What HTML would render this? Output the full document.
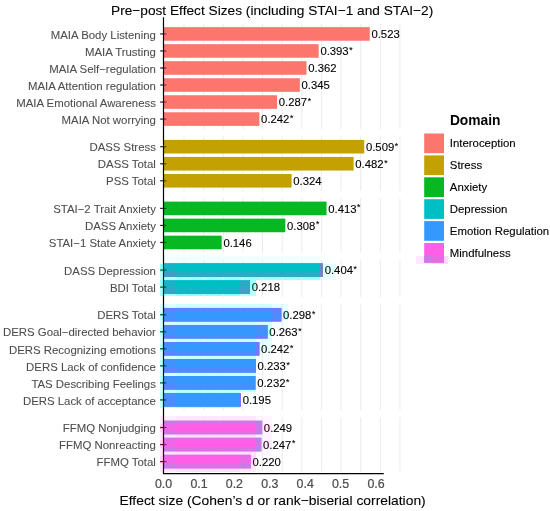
<!DOCTYPE html>
<html><head><meta charset="utf-8"><style>
html,body{margin:0;padding:0;background:#fff;width:550px;height:511px;overflow:hidden}
svg{display:block;will-change:transform}
text{font-family:"Liberation Sans",sans-serif;stroke-width:0.22px;paint-order:stroke}
.xt{stroke:#4D4D4D} .v,.lg{stroke:#000;stroke-width:0.12px} .t,.xa{stroke:#000;stroke-width:0.1px} .y{stroke:#4D4D4D;stroke-width:0.08px}
.y{font-size:11.4px;fill:#4D4D4D;text-anchor:end}
.v{font-size:11.3px;fill:#000}
.st{font-size:8.6px}
.xt{font-size:12.4px;fill:#4D4D4D}
.t{font-size:13.35px;fill:#000}
.xa{font-size:13.2px;fill:#000}
.lt{font-size:13.8px;font-weight:bold;fill:#000}
.lg{font-size:11.4px;fill:#000}
</style></head><body>
<svg width="550" height="511" viewBox="0 0 550 511">
<rect width="550" height="511" fill="#fff"/>
<defs><clipPath id="k0"><rect x="160" y="256" width="16" height="8"/></clipPath><clipPath id="k1"><rect x="160" y="264" width="16" height="8"/></clipPath><clipPath id="k2"><rect x="320" y="264" width="16" height="8"/></clipPath><clipPath id="k3"><rect x="160" y="272" width="16" height="8"/></clipPath><clipPath id="k4"><rect x="320" y="272" width="16" height="8"/></clipPath><clipPath id="k5"><rect x="160" y="280" width="16" height="8"/></clipPath><clipPath id="k6"><rect x="240" y="280" width="16" height="8"/></clipPath><clipPath id="k7"><rect x="160" y="288" width="16" height="8"/></clipPath><clipPath id="k8"><rect x="240" y="288" width="16" height="8"/></clipPath><clipPath id="k9"><rect x="160" y="304" width="16" height="8"/></clipPath><clipPath id="k10"><rect x="272" y="304" width="16" height="8"/></clipPath><clipPath id="k11"><rect x="160" y="312" width="16" height="8"/></clipPath><clipPath id="k12"><rect x="272" y="312" width="16" height="8"/></clipPath><clipPath id="k13"><rect x="160" y="320" width="16" height="8"/></clipPath><clipPath id="k14"><rect x="256" y="320" width="16" height="8"/></clipPath><clipPath id="k15"><rect x="272" y="320" width="16" height="8"/></clipPath><clipPath id="k16"><rect x="160" y="328" width="16" height="8"/></clipPath><clipPath id="k17"><rect x="256" y="328" width="16" height="8"/></clipPath><clipPath id="k18"><rect x="160" y="336" width="16" height="8"/></clipPath><clipPath id="k19"><rect x="256" y="336" width="16" height="8"/></clipPath><clipPath id="k20"><rect x="160" y="344" width="16" height="8"/></clipPath><clipPath id="k21"><rect x="256" y="344" width="16" height="8"/></clipPath><clipPath id="k22"><rect x="160" y="352" width="16" height="8"/></clipPath><clipPath id="k23"><rect x="240" y="352" width="16" height="8"/></clipPath><clipPath id="k24"><rect x="256" y="352" width="16" height="8"/></clipPath><clipPath id="k25"><rect x="160" y="360" width="16" height="8"/></clipPath><clipPath id="k26"><rect x="240" y="360" width="16" height="8"/></clipPath><clipPath id="k27"><rect x="160" y="368" width="16" height="8"/></clipPath><clipPath id="k28"><rect x="240" y="368" width="16" height="8"/></clipPath><clipPath id="k29"><rect x="160" y="376" width="16" height="8"/></clipPath><clipPath id="k30"><rect x="240" y="376" width="16" height="8"/></clipPath><clipPath id="k31"><rect x="160" y="384" width="16" height="8"/></clipPath><clipPath id="k32"><rect x="240" y="384" width="16" height="8"/></clipPath><clipPath id="k33"><rect x="160" y="392" width="16" height="8"/></clipPath><clipPath id="k34"><rect x="160" y="400" width="16" height="8"/></clipPath><clipPath id="k35"><rect x="160" y="416" width="16" height="8"/></clipPath><clipPath id="k36"><rect x="256" y="416" width="16" height="8"/></clipPath><clipPath id="k37"><rect x="160" y="424" width="16" height="8"/></clipPath><clipPath id="k38"><rect x="256" y="424" width="16" height="8"/></clipPath><clipPath id="k39"><rect x="160" y="432" width="16" height="8"/></clipPath><clipPath id="k40"><rect x="256" y="432" width="16" height="8"/></clipPath><clipPath id="k41"><rect x="160" y="440" width="16" height="8"/></clipPath><clipPath id="k42"><rect x="256" y="440" width="16" height="8"/></clipPath><clipPath id="k43"><rect x="160" y="448" width="16" height="8"/></clipPath><clipPath id="k44"><rect x="240" y="448" width="16" height="8"/></clipPath><clipPath id="k45"><rect x="256" y="448" width="16" height="8"/></clipPath><clipPath id="k46"><rect x="160" y="456" width="16" height="8"/></clipPath><clipPath id="k47"><rect x="240" y="456" width="16" height="8"/></clipPath><clipPath id="k48"><rect x="160" y="464" width="16" height="8"/></clipPath><clipPath id="k49"><rect x="176" y="464" width="16" height="8"/></clipPath><clipPath id="k50"><rect x="192" y="464" width="16" height="8"/></clipPath><clipPath id="k51"><rect x="208" y="464" width="16" height="8"/></clipPath><clipPath id="k52"><rect x="224" y="464" width="16" height="8"/></clipPath><clipPath id="k53"><rect x="240" y="464" width="16" height="8"/></clipPath><mask id="mT" maskUnits="userSpaceOnUse" x="0" y="0" width="550" height="511"><rect width="550" height="511" fill="#fff"/><rect x="160" y="256" width="16" height="8" fill="#000"/><rect x="160" y="264" width="16" height="8" fill="#000"/><rect x="320" y="264" width="16" height="8" fill="#000"/><rect x="160" y="272" width="16" height="8" fill="#000"/><rect x="320" y="272" width="16" height="8" fill="#000"/><rect x="160" y="280" width="16" height="8" fill="#000"/><rect x="240" y="280" width="16" height="8" fill="#000"/><rect x="160" y="288" width="16" height="8" fill="#000"/><rect x="240" y="288" width="16" height="8" fill="#000"/><rect x="160" y="304" width="16" height="8" fill="#000"/><rect x="272" y="304" width="16" height="8" fill="#000"/><rect x="160" y="312" width="16" height="8" fill="#000"/><rect x="272" y="312" width="16" height="8" fill="#000"/><rect x="160" y="320" width="16" height="8" fill="#000"/><rect x="256" y="320" width="16" height="8" fill="#000"/><rect x="272" y="320" width="16" height="8" fill="#000"/><rect x="160" y="328" width="16" height="8" fill="#000"/><rect x="256" y="328" width="16" height="8" fill="#000"/><rect x="160" y="336" width="16" height="8" fill="#000"/><rect x="256" y="336" width="16" height="8" fill="#000"/><rect x="160" y="344" width="16" height="8" fill="#000"/><rect x="256" y="344" width="16" height="8" fill="#000"/><rect x="160" y="352" width="16" height="8" fill="#000"/><rect x="240" y="352" width="16" height="8" fill="#000"/><rect x="256" y="352" width="16" height="8" fill="#000"/><rect x="160" y="360" width="16" height="8" fill="#000"/><rect x="240" y="360" width="16" height="8" fill="#000"/><rect x="160" y="368" width="16" height="8" fill="#000"/><rect x="240" y="368" width="16" height="8" fill="#000"/><rect x="160" y="376" width="16" height="8" fill="#000"/><rect x="240" y="376" width="16" height="8" fill="#000"/><rect x="160" y="384" width="16" height="8" fill="#000"/><rect x="240" y="384" width="16" height="8" fill="#000"/><rect x="160" y="392" width="16" height="8" fill="#000"/><rect x="160" y="400" width="16" height="8" fill="#000"/><rect x="160" y="416" width="16" height="8" fill="#000"/><rect x="256" y="416" width="16" height="8" fill="#000"/><rect x="160" y="424" width="16" height="8" fill="#000"/><rect x="256" y="424" width="16" height="8" fill="#000"/><rect x="160" y="432" width="16" height="8" fill="#000"/><rect x="256" y="432" width="16" height="8" fill="#000"/><rect x="160" y="440" width="16" height="8" fill="#000"/><rect x="256" y="440" width="16" height="8" fill="#000"/><rect x="160" y="448" width="16" height="8" fill="#000"/><rect x="240" y="448" width="16" height="8" fill="#000"/><rect x="256" y="448" width="16" height="8" fill="#000"/><rect x="160" y="456" width="16" height="8" fill="#000"/><rect x="240" y="456" width="16" height="8" fill="#000"/><rect x="160" y="464" width="16" height="8" fill="#000"/><rect x="176" y="464" width="16" height="8" fill="#000"/><rect x="192" y="464" width="16" height="8" fill="#000"/><rect x="208" y="464" width="16" height="8" fill="#000"/><rect x="224" y="464" width="16" height="8" fill="#000"/><rect x="240" y="464" width="16" height="8" fill="#000"/></mask></defs>
<rect x="160" y="256" width="16" height="8" fill="#F5FFFF"/>
<rect x="176" y="256" width="16" height="8" fill="#F1FFFF"/>
<rect x="192" y="256" width="16" height="8" fill="#F1FFFF"/>
<rect x="208" y="256" width="16" height="8" fill="#F1FFFF"/>
<rect x="224" y="256" width="16" height="8" fill="#F1FFFF"/>
<rect x="240" y="256" width="16" height="8" fill="#F1FFFF"/>
<rect x="256" y="256" width="16" height="8" fill="#F1FFFF"/>
<rect x="272" y="256" width="16" height="8" fill="#F1FFFF"/>
<rect x="288" y="256" width="16" height="8" fill="#F1FFFF"/>
<rect x="304" y="256" width="16" height="8" fill="#F1FFFF"/>
<rect x="320" y="256" width="16" height="8" fill="#FCFFFF"/>
<rect x="416" y="256" width="16" height="8" fill="#FFE8FF"/>
<rect x="432" y="256" width="16" height="8" fill="#FFDBFF"/>
<rect x="160" y="264" width="16" height="8" fill="#8EFFFF"/>
<rect x="320" y="264" width="16" height="8" fill="#E2FFFF"/>
<rect x="160" y="272" width="16" height="8" fill="#B9FFFF"/>
<rect x="176" y="272" width="16" height="8" fill="#A0FFFF"/>
<rect x="192" y="272" width="16" height="8" fill="#A0FFFF"/>
<rect x="208" y="272" width="16" height="8" fill="#A0FFFF"/>
<rect x="224" y="272" width="16" height="8" fill="#A0FFFF"/>
<rect x="240" y="272" width="16" height="8" fill="#A0FFFF"/>
<rect x="256" y="272" width="16" height="8" fill="#A0FFFF"/>
<rect x="272" y="272" width="16" height="8" fill="#A0FFFF"/>
<rect x="288" y="272" width="16" height="8" fill="#A0FFFF"/>
<rect x="304" y="272" width="16" height="8" fill="#A0FFFF"/>
<rect x="320" y="272" width="16" height="8" fill="#EDFFFF"/>
<rect x="160" y="280" width="16" height="8" fill="#92FFFF"/>
<rect x="176" y="280" width="16" height="8" fill="#79FFFF"/>
<rect x="192" y="280" width="16" height="8" fill="#79FFFF"/>
<rect x="208" y="280" width="16" height="8" fill="#79FFFF"/>
<rect x="224" y="280" width="16" height="8" fill="#79FFFF"/>
<rect x="240" y="280" width="16" height="8" fill="#A2FFFF"/>
<rect x="160" y="288" width="16" height="8" fill="#AAFFFF"/>
<rect x="176" y="288" width="16" height="8" fill="#8DFFFF"/>
<rect x="192" y="288" width="16" height="8" fill="#8DFFFF"/>
<rect x="208" y="288" width="16" height="8" fill="#8DFFFF"/>
<rect x="224" y="288" width="16" height="8" fill="#8DFFFF"/>
<rect x="240" y="288" width="16" height="8" fill="#B8FFFF"/>
<rect x="160" y="304" width="16" height="8" fill="#DBFFFF"/>
<rect x="176" y="304" width="16" height="8" fill="#CFFFFF"/>
<rect x="192" y="304" width="16" height="8" fill="#CFFFFF"/>
<rect x="208" y="304" width="16" height="8" fill="#CFFFFF"/>
<rect x="224" y="304" width="16" height="8" fill="#CFFFFF"/>
<rect x="240" y="304" width="16" height="8" fill="#CFFFFF"/>
<rect x="256" y="304" width="16" height="8" fill="#CFFFFF"/>
<rect x="272" y="304" width="16" height="8" fill="#E3FFFF"/>
<rect x="160" y="312" width="16" height="8" fill="#B9FFFF"/>
<rect x="272" y="312" width="16" height="8" fill="#C7FFFF"/>
<rect x="160" y="320" width="16" height="8" fill="#D6FFFF"/>
<rect x="176" y="320" width="16" height="8" fill="#C8FFFF"/>
<rect x="192" y="320" width="16" height="8" fill="#C8FFFF"/>
<rect x="208" y="320" width="16" height="8" fill="#C8FFFF"/>
<rect x="224" y="320" width="16" height="8" fill="#C8FFFF"/>
<rect x="240" y="320" width="16" height="8" fill="#C8FFFF"/>
<rect x="256" y="320" width="16" height="8" fill="#D2FFFF"/>
<rect x="272" y="320" width="16" height="8" fill="#F4FFFF"/>
<rect x="160" y="328" width="16" height="8" fill="#B9FFFF"/>
<rect x="256" y="328" width="16" height="8" fill="#B9FFFF"/>
<rect x="160" y="336" width="16" height="8" fill="#D6FFFF"/>
<rect x="176" y="336" width="16" height="8" fill="#C8FFFF"/>
<rect x="192" y="336" width="16" height="8" fill="#C8FFFF"/>
<rect x="208" y="336" width="16" height="8" fill="#C8FFFF"/>
<rect x="224" y="336" width="16" height="8" fill="#C8FFFF"/>
<rect x="240" y="336" width="16" height="8" fill="#C8FFFF"/>
<rect x="256" y="336" width="16" height="8" fill="#E3FFFF"/>
<rect x="160" y="344" width="16" height="8" fill="#B9FFFF"/>
<rect x="256" y="344" width="16" height="8" fill="#EBFFFF"/>
<rect x="160" y="352" width="16" height="8" fill="#D6FFFF"/>
<rect x="176" y="352" width="16" height="8" fill="#C8FFFF"/>
<rect x="192" y="352" width="16" height="8" fill="#C8FFFF"/>
<rect x="208" y="352" width="16" height="8" fill="#C8FFFF"/>
<rect x="224" y="352" width="16" height="8" fill="#C8FFFF"/>
<rect x="240" y="352" width="16" height="8" fill="#C8FFFF"/>
<rect x="256" y="352" width="16" height="8" fill="#F6FFFF"/>
<rect x="160" y="360" width="16" height="8" fill="#B9FFFF"/>
<rect x="240" y="360" width="16" height="8" fill="#ACFFFF"/>
<rect x="160" y="368" width="16" height="8" fill="#D6FFFF"/>
<rect x="176" y="368" width="16" height="8" fill="#C7FFFF"/>
<rect x="192" y="368" width="16" height="8" fill="#C7FFFF"/>
<rect x="208" y="368" width="16" height="8" fill="#C7FFFF"/>
<rect x="224" y="368" width="16" height="8" fill="#C7FFFF"/>
<rect x="240" y="368" width="16" height="8" fill="#C8FFFF"/>
<rect x="160" y="376" width="16" height="8" fill="#BAFFFF"/>
<rect x="176" y="376" width="16" height="8" fill="#ACFFFF"/>
<rect x="192" y="376" width="16" height="8" fill="#ACFFFF"/>
<rect x="208" y="376" width="16" height="8" fill="#ACFFFF"/>
<rect x="224" y="376" width="16" height="8" fill="#ACFFFF"/>
<rect x="240" y="376" width="16" height="8" fill="#ACFFFF"/>
<rect x="160" y="384" width="16" height="8" fill="#CDFFFF"/>
<rect x="176" y="384" width="16" height="8" fill="#BBFFFF"/>
<rect x="192" y="384" width="16" height="8" fill="#BBFFFF"/>
<rect x="208" y="384" width="16" height="8" fill="#BBFFFF"/>
<rect x="224" y="384" width="16" height="8" fill="#BBFFFF"/>
<rect x="240" y="384" width="16" height="8" fill="#BDFFFF"/>
<rect x="160" y="392" width="16" height="8" fill="#C2FFFF"/>
<rect x="176" y="392" width="16" height="8" fill="#ADFFFF"/>
<rect x="192" y="392" width="16" height="8" fill="#ADFFFF"/>
<rect x="208" y="392" width="16" height="8" fill="#ADFFFF"/>
<rect x="224" y="392" width="16" height="8" fill="#ADFFFF"/>
<rect x="240" y="392" width="16" height="8" fill="#FAFFFF"/>
<rect x="160" y="400" width="16" height="8" fill="#C4FFFF"/>
<rect x="176" y="400" width="16" height="8" fill="#AFFFFF"/>
<rect x="192" y="400" width="16" height="8" fill="#AFFFFF"/>
<rect x="208" y="400" width="16" height="8" fill="#AFFFFF"/>
<rect x="224" y="400" width="16" height="8" fill="#AFFFFF"/>
<rect x="240" y="400" width="16" height="8" fill="#FAFFFF"/>
<rect x="160" y="416" width="16" height="8" fill="#FFEEFF"/>
<rect x="176" y="416" width="16" height="8" fill="#FFE8FF"/>
<rect x="192" y="416" width="16" height="8" fill="#FFE8FF"/>
<rect x="208" y="416" width="16" height="8" fill="#FFE8FF"/>
<rect x="224" y="416" width="16" height="8" fill="#FFE8FF"/>
<rect x="240" y="416" width="16" height="8" fill="#FFE8FF"/>
<rect x="256" y="416" width="16" height="8" fill="#FFF6FF"/>
<rect x="160" y="424" width="16" height="8" fill="#FFD5FF"/>
<rect x="256" y="424" width="16" height="8" fill="#FFE9FF"/>
<rect x="160" y="432" width="16" height="8" fill="#FFE7FF"/>
<rect x="176" y="432" width="16" height="8" fill="#FFDFFF"/>
<rect x="192" y="432" width="16" height="8" fill="#FFDFFF"/>
<rect x="208" y="432" width="16" height="8" fill="#FFDFFF"/>
<rect x="224" y="432" width="16" height="8" fill="#FFDFFF"/>
<rect x="240" y="432" width="16" height="8" fill="#FFDFFF"/>
<rect x="256" y="432" width="16" height="8" fill="#FFF3FF"/>
<rect x="160" y="440" width="16" height="8" fill="#FFD5FF"/>
<rect x="256" y="440" width="16" height="8" fill="#FFECFF"/>
<rect x="160" y="448" width="16" height="8" fill="#FFE7FF"/>
<rect x="176" y="448" width="16" height="8" fill="#FFDFFF"/>
<rect x="192" y="448" width="16" height="8" fill="#FFDFFF"/>
<rect x="208" y="448" width="16" height="8" fill="#FFDFFF"/>
<rect x="224" y="448" width="16" height="8" fill="#FFDFFF"/>
<rect x="240" y="448" width="16" height="8" fill="#FFE1FF"/>
<rect x="256" y="448" width="16" height="8" fill="#FFF7FF"/>
<rect x="160" y="456" width="16" height="8" fill="#FFD5FF"/>
<rect x="240" y="456" width="16" height="8" fill="#FFD9FF"/>
<rect x="160" y="464" width="16" height="8" fill="#FFE8FF"/>
<rect x="176" y="464" width="16" height="8" fill="#FFE0FF"/>
<rect x="192" y="464" width="16" height="8" fill="#FFE0FF"/>
<rect x="208" y="464" width="16" height="8" fill="#FFE0FF"/>
<rect x="224" y="464" width="16" height="8" fill="#FFE0FF"/>
<rect x="240" y="464" width="16" height="8" fill="#FFEAFF"/>
<line x1="184.03" y1="23.71" x2="184.03" y2="129.30" stroke="#EBEBEB" stroke-width="1"/>
<line x1="203.66" y1="23.71" x2="203.66" y2="129.30" stroke="#EBEBEB" stroke-width="1"/>
<line x1="223.29" y1="23.71" x2="223.29" y2="129.30" stroke="#EBEBEB" stroke-width="1"/>
<line x1="242.92" y1="23.71" x2="242.92" y2="129.30" stroke="#EBEBEB" stroke-width="1"/>
<line x1="262.55" y1="23.71" x2="262.55" y2="129.30" stroke="#EBEBEB" stroke-width="1"/>
<line x1="282.18" y1="23.71" x2="282.18" y2="129.30" stroke="#EBEBEB" stroke-width="1"/>
<line x1="301.81" y1="23.71" x2="301.81" y2="129.30" stroke="#EBEBEB" stroke-width="1"/>
<line x1="321.44" y1="23.71" x2="321.44" y2="129.30" stroke="#EBEBEB" stroke-width="1"/>
<line x1="341.07" y1="23.71" x2="341.07" y2="129.30" stroke="#EBEBEB" stroke-width="1"/>
<line x1="360.70" y1="23.71" x2="360.70" y2="129.30" stroke="#EBEBEB" stroke-width="1"/>
<line x1="380.33" y1="23.71" x2="380.33" y2="129.30" stroke="#EBEBEB" stroke-width="1"/>
<line x1="399.96" y1="23.71" x2="399.96" y2="129.30" stroke="#EBEBEB" stroke-width="1"/>
<line x1="184.03" y1="136.49" x2="184.03" y2="190.99" stroke="#EBEBEB" stroke-width="1"/>
<line x1="203.66" y1="136.49" x2="203.66" y2="190.99" stroke="#EBEBEB" stroke-width="1"/>
<line x1="223.29" y1="136.49" x2="223.29" y2="190.99" stroke="#EBEBEB" stroke-width="1"/>
<line x1="242.92" y1="136.49" x2="242.92" y2="190.99" stroke="#EBEBEB" stroke-width="1"/>
<line x1="262.55" y1="136.49" x2="262.55" y2="190.99" stroke="#EBEBEB" stroke-width="1"/>
<line x1="282.18" y1="136.49" x2="282.18" y2="190.99" stroke="#EBEBEB" stroke-width="1"/>
<line x1="301.81" y1="136.49" x2="301.81" y2="190.99" stroke="#EBEBEB" stroke-width="1"/>
<line x1="321.44" y1="136.49" x2="321.44" y2="190.99" stroke="#EBEBEB" stroke-width="1"/>
<line x1="341.07" y1="136.49" x2="341.07" y2="190.99" stroke="#EBEBEB" stroke-width="1"/>
<line x1="360.70" y1="136.49" x2="360.70" y2="190.99" stroke="#EBEBEB" stroke-width="1"/>
<line x1="380.33" y1="136.49" x2="380.33" y2="190.99" stroke="#EBEBEB" stroke-width="1"/>
<line x1="399.96" y1="136.49" x2="399.96" y2="190.99" stroke="#EBEBEB" stroke-width="1"/>
<line x1="184.03" y1="198.18" x2="184.03" y2="252.68" stroke="#EBEBEB" stroke-width="1"/>
<line x1="203.66" y1="198.18" x2="203.66" y2="252.68" stroke="#EBEBEB" stroke-width="1"/>
<line x1="223.29" y1="198.18" x2="223.29" y2="252.68" stroke="#EBEBEB" stroke-width="1"/>
<line x1="242.92" y1="198.18" x2="242.92" y2="252.68" stroke="#EBEBEB" stroke-width="1"/>
<line x1="262.55" y1="198.18" x2="262.55" y2="252.68" stroke="#EBEBEB" stroke-width="1"/>
<line x1="282.18" y1="198.18" x2="282.18" y2="252.68" stroke="#EBEBEB" stroke-width="1"/>
<line x1="301.81" y1="198.18" x2="301.81" y2="252.68" stroke="#EBEBEB" stroke-width="1"/>
<line x1="321.44" y1="198.18" x2="321.44" y2="252.68" stroke="#EBEBEB" stroke-width="1"/>
<line x1="341.07" y1="198.18" x2="341.07" y2="252.68" stroke="#EBEBEB" stroke-width="1"/>
<line x1="360.70" y1="198.18" x2="360.70" y2="252.68" stroke="#EBEBEB" stroke-width="1"/>
<line x1="380.33" y1="198.18" x2="380.33" y2="252.68" stroke="#EBEBEB" stroke-width="1"/>
<line x1="399.96" y1="198.18" x2="399.96" y2="252.68" stroke="#EBEBEB" stroke-width="1"/>
<line x1="184.03" y1="259.87" x2="184.03" y2="297.34" stroke="#EBEBEB" stroke-width="1"/>
<line x1="203.66" y1="259.87" x2="203.66" y2="297.34" stroke="#EBEBEB" stroke-width="1"/>
<line x1="223.29" y1="259.87" x2="223.29" y2="297.34" stroke="#EBEBEB" stroke-width="1"/>
<line x1="242.92" y1="259.87" x2="242.92" y2="297.34" stroke="#EBEBEB" stroke-width="1"/>
<line x1="262.55" y1="259.87" x2="262.55" y2="297.34" stroke="#EBEBEB" stroke-width="1"/>
<line x1="282.18" y1="259.87" x2="282.18" y2="297.34" stroke="#EBEBEB" stroke-width="1"/>
<line x1="301.81" y1="259.87" x2="301.81" y2="297.34" stroke="#EBEBEB" stroke-width="1"/>
<line x1="321.44" y1="259.87" x2="321.44" y2="297.34" stroke="#EBEBEB" stroke-width="1"/>
<line x1="341.07" y1="259.87" x2="341.07" y2="297.34" stroke="#EBEBEB" stroke-width="1"/>
<line x1="360.70" y1="259.87" x2="360.70" y2="297.34" stroke="#EBEBEB" stroke-width="1"/>
<line x1="380.33" y1="259.87" x2="380.33" y2="297.34" stroke="#EBEBEB" stroke-width="1"/>
<line x1="399.96" y1="259.87" x2="399.96" y2="297.34" stroke="#EBEBEB" stroke-width="1"/>
<line x1="184.03" y1="304.53" x2="184.03" y2="410.12" stroke="#EBEBEB" stroke-width="1"/>
<line x1="203.66" y1="304.53" x2="203.66" y2="410.12" stroke="#EBEBEB" stroke-width="1"/>
<line x1="223.29" y1="304.53" x2="223.29" y2="410.12" stroke="#EBEBEB" stroke-width="1"/>
<line x1="242.92" y1="304.53" x2="242.92" y2="410.12" stroke="#EBEBEB" stroke-width="1"/>
<line x1="262.55" y1="304.53" x2="262.55" y2="410.12" stroke="#EBEBEB" stroke-width="1"/>
<line x1="282.18" y1="304.53" x2="282.18" y2="410.12" stroke="#EBEBEB" stroke-width="1"/>
<line x1="301.81" y1="304.53" x2="301.81" y2="410.12" stroke="#EBEBEB" stroke-width="1"/>
<line x1="321.44" y1="304.53" x2="321.44" y2="410.12" stroke="#EBEBEB" stroke-width="1"/>
<line x1="341.07" y1="304.53" x2="341.07" y2="410.12" stroke="#EBEBEB" stroke-width="1"/>
<line x1="360.70" y1="304.53" x2="360.70" y2="410.12" stroke="#EBEBEB" stroke-width="1"/>
<line x1="380.33" y1="304.53" x2="380.33" y2="410.12" stroke="#EBEBEB" stroke-width="1"/>
<line x1="399.96" y1="304.53" x2="399.96" y2="410.12" stroke="#EBEBEB" stroke-width="1"/>
<line x1="184.03" y1="417.31" x2="184.03" y2="471.81" stroke="#EBEBEB" stroke-width="1"/>
<line x1="203.66" y1="417.31" x2="203.66" y2="471.81" stroke="#EBEBEB" stroke-width="1"/>
<line x1="223.29" y1="417.31" x2="223.29" y2="471.81" stroke="#EBEBEB" stroke-width="1"/>
<line x1="242.92" y1="417.31" x2="242.92" y2="471.81" stroke="#EBEBEB" stroke-width="1"/>
<line x1="262.55" y1="417.31" x2="262.55" y2="471.81" stroke="#EBEBEB" stroke-width="1"/>
<line x1="282.18" y1="417.31" x2="282.18" y2="471.81" stroke="#EBEBEB" stroke-width="1"/>
<line x1="301.81" y1="417.31" x2="301.81" y2="471.81" stroke="#EBEBEB" stroke-width="1"/>
<line x1="321.44" y1="417.31" x2="321.44" y2="471.81" stroke="#EBEBEB" stroke-width="1"/>
<line x1="341.07" y1="417.31" x2="341.07" y2="471.81" stroke="#EBEBEB" stroke-width="1"/>
<line x1="360.70" y1="417.31" x2="360.70" y2="471.81" stroke="#EBEBEB" stroke-width="1"/>
<line x1="380.33" y1="417.31" x2="380.33" y2="471.81" stroke="#EBEBEB" stroke-width="1"/>
<line x1="399.96" y1="417.31" x2="399.96" y2="471.81" stroke="#EBEBEB" stroke-width="1"/>
<rect x="163.60" y="27.13" width="206.13" height="13.60" fill="#FB776E"/>
<rect x="163.60" y="44.16" width="155.09" height="13.60" fill="#FB776E"/>
<rect x="163.60" y="61.19" width="142.92" height="13.60" fill="#FB776E"/>
<rect x="163.60" y="78.22" width="136.25" height="13.60" fill="#FB776E"/>
<rect x="163.60" y="95.25" width="113.48" height="13.60" fill="#FB776E"/>
<rect x="163.60" y="112.28" width="95.81" height="13.60" fill="#FB776E"/>
<rect x="163.60" y="139.91" width="200.63" height="13.60" fill="#C3A100"/>
<rect x="163.60" y="156.94" width="190.03" height="13.60" fill="#C3A100"/>
<rect x="163.60" y="173.97" width="128.00" height="13.60" fill="#C3A100"/>
<rect x="163.60" y="201.60" width="162.94" height="13.60" fill="#06B922"/>
<rect x="163.60" y="218.63" width="121.72" height="13.60" fill="#06B922"/>
<rect x="163.60" y="235.66" width="58.12" height="13.60" fill="#06B922"/>
<rect x="163.60" y="263.29" width="159.41" height="13.60" fill="#00BFC4"/>
<rect x="163.60" y="280.32" width="86.39" height="13.60" fill="#00BFC4"/>
<rect x="163.60" y="307.95" width="117.79" height="13.60" fill="#3399FF"/>
<rect x="163.60" y="324.98" width="104.05" height="13.60" fill="#3399FF"/>
<rect x="163.60" y="342.01" width="95.81" height="13.60" fill="#3399FF"/>
<rect x="163.60" y="359.04" width="92.28" height="13.60" fill="#3399FF"/>
<rect x="163.60" y="376.07" width="91.88" height="13.60" fill="#3399FF"/>
<rect x="163.60" y="393.10" width="77.36" height="13.60" fill="#3399FF"/>
<rect x="163.60" y="420.73" width="98.56" height="13.60" fill="#FF5FE6"/>
<rect x="163.60" y="437.76" width="97.77" height="13.60" fill="#FF5FE6"/>
<rect x="163.60" y="454.79" width="87.17" height="13.60" fill="#FF5FE6"/>
<rect x="424.20" y="133.50" width="19.80" height="19.70" fill="#FB776E"/>
<rect x="424.20" y="155.40" width="19.80" height="19.70" fill="#C3A100"/>
<rect x="424.20" y="177.30" width="19.80" height="19.70" fill="#06B922"/>
<rect x="424.20" y="199.20" width="19.80" height="19.70" fill="#00BFC4"/>
<rect x="424.20" y="221.10" width="19.80" height="19.70" fill="#3399FF"/>
<rect x="424.20" y="243.00" width="19.80" height="19.70" fill="#FF5FE6"/>
<rect x="163.60" y="263.29" width="12.40" height="0.71" fill="#7C80C4"/>
<rect x="176.00" y="263.29" width="16.00" height="0.71" fill="#7982C4"/>
<rect x="192.00" y="263.29" width="16.00" height="0.71" fill="#7982C4"/>
<rect x="208.00" y="263.29" width="16.00" height="0.71" fill="#7982C4"/>
<rect x="224.00" y="263.29" width="16.00" height="0.71" fill="#7982C4"/>
<rect x="240.00" y="263.29" width="16.00" height="0.71" fill="#7982C4"/>
<rect x="256.00" y="263.29" width="16.00" height="0.71" fill="#7982C4"/>
<rect x="272.00" y="263.29" width="16.00" height="0.71" fill="#7982C4"/>
<rect x="288.00" y="263.29" width="16.00" height="0.71" fill="#7982C4"/>
<rect x="304.00" y="263.29" width="16.00" height="0.71" fill="#7982C4"/>
<rect x="320.00" y="263.29" width="3.01" height="0.71" fill="#847CC4"/>
<rect x="424.20" y="256.00" width="7.80" height="6.70" fill="#CC79E6"/>
<rect x="432.00" y="256.00" width="12.00" height="6.70" fill="#E46DE6"/>
<rect x="163.60" y="264.00" width="12.40" height="8.00" fill="#15B4C4"/>
<rect x="320.00" y="264.00" width="3.01" height="8.00" fill="#6989C4"/>
<rect x="163.60" y="272.00" width="12.40" height="4.89" fill="#409EC4"/>
<rect x="176.00" y="272.00" width="16.00" height="4.89" fill="#28ABC4"/>
<rect x="192.00" y="272.00" width="16.00" height="4.89" fill="#28ABC4"/>
<rect x="208.00" y="272.00" width="16.00" height="4.89" fill="#28ABC4"/>
<rect x="224.00" y="272.00" width="16.00" height="4.89" fill="#28ABC4"/>
<rect x="240.00" y="272.00" width="16.00" height="4.89" fill="#28ABC4"/>
<rect x="256.00" y="272.00" width="16.00" height="4.89" fill="#28ABC4"/>
<rect x="272.00" y="272.00" width="16.00" height="4.89" fill="#28ABC4"/>
<rect x="288.00" y="272.00" width="16.00" height="4.89" fill="#28ABC4"/>
<rect x="304.00" y="272.00" width="16.00" height="4.89" fill="#28ABC4"/>
<rect x="320.00" y="272.00" width="3.01" height="4.89" fill="#7584C4"/>
<rect x="163.60" y="280.32" width="12.40" height="7.68" fill="#1AB2C4"/>
<rect x="176.00" y="280.32" width="16.00" height="7.68" fill="#00BFC4"/>
<rect x="192.00" y="280.32" width="16.00" height="7.68" fill="#00BFC4"/>
<rect x="208.00" y="280.32" width="16.00" height="7.68" fill="#00BFC4"/>
<rect x="224.00" y="280.32" width="16.00" height="7.68" fill="#00BFC4"/>
<rect x="240.00" y="280.32" width="9.99" height="7.68" fill="#2AAAC4"/>
<rect x="163.60" y="288.00" width="12.40" height="5.92" fill="#31A6C4"/>
<rect x="176.00" y="288.00" width="16.00" height="5.92" fill="#14B5C4"/>
<rect x="192.00" y="288.00" width="16.00" height="5.92" fill="#14B5C4"/>
<rect x="208.00" y="288.00" width="16.00" height="5.92" fill="#14B5C4"/>
<rect x="224.00" y="288.00" width="16.00" height="5.92" fill="#14B5C4"/>
<rect x="240.00" y="288.00" width="9.99" height="5.92" fill="#3F9FC4"/>
<rect x="163.60" y="307.95" width="12.40" height="4.05" fill="#6281FF"/>
<rect x="176.00" y="307.95" width="16.00" height="4.05" fill="#5687FF"/>
<rect x="192.00" y="307.95" width="16.00" height="4.05" fill="#5687FF"/>
<rect x="208.00" y="307.95" width="16.00" height="4.05" fill="#5687FF"/>
<rect x="224.00" y="307.95" width="16.00" height="4.05" fill="#5687FF"/>
<rect x="240.00" y="307.95" width="16.00" height="4.05" fill="#5687FF"/>
<rect x="256.00" y="307.95" width="16.00" height="4.05" fill="#5687FF"/>
<rect x="272.00" y="307.95" width="9.39" height="4.05" fill="#6A7DFF"/>
<rect x="163.60" y="312.00" width="12.40" height="8.00" fill="#4092FF"/>
<rect x="272.00" y="312.00" width="9.39" height="8.00" fill="#4E8BFF"/>
<rect x="163.60" y="320.00" width="12.40" height="1.55" fill="#5E83FF"/>
<rect x="163.60" y="324.98" width="12.40" height="3.02" fill="#5E83FF"/>
<rect x="176.00" y="320.00" width="16.00" height="1.55" fill="#508AFF"/>
<rect x="176.00" y="324.98" width="16.00" height="3.02" fill="#508AFF"/>
<rect x="192.00" y="320.00" width="16.00" height="1.55" fill="#508AFF"/>
<rect x="192.00" y="324.98" width="16.00" height="3.02" fill="#508AFF"/>
<rect x="208.00" y="320.00" width="16.00" height="1.55" fill="#508AFF"/>
<rect x="208.00" y="324.98" width="16.00" height="3.02" fill="#508AFF"/>
<rect x="224.00" y="320.00" width="16.00" height="1.55" fill="#508AFF"/>
<rect x="224.00" y="324.98" width="16.00" height="3.02" fill="#508AFF"/>
<rect x="240.00" y="320.00" width="16.00" height="1.55" fill="#508AFF"/>
<rect x="240.00" y="324.98" width="16.00" height="3.02" fill="#508AFF"/>
<rect x="256.00" y="320.00" width="16.00" height="1.55" fill="#5985FF"/>
<rect x="256.00" y="324.98" width="11.65" height="3.02" fill="#5985FF"/>
<rect x="272.00" y="320.00" width="9.39" height="1.55" fill="#7B74FF"/>
<rect x="163.60" y="328.00" width="12.40" height="8.00" fill="#4092FF"/>
<rect x="256.00" y="328.00" width="11.65" height="8.00" fill="#4192FF"/>
<rect x="163.60" y="336.00" width="12.40" height="2.58" fill="#5D83FF"/>
<rect x="163.60" y="342.01" width="12.40" height="1.99" fill="#5D83FF"/>
<rect x="176.00" y="336.00" width="16.00" height="2.58" fill="#4F8BFF"/>
<rect x="176.00" y="342.01" width="16.00" height="1.99" fill="#4F8BFF"/>
<rect x="192.00" y="336.00" width="16.00" height="2.58" fill="#4F8BFF"/>
<rect x="192.00" y="342.01" width="16.00" height="1.99" fill="#4F8BFF"/>
<rect x="208.00" y="336.00" width="16.00" height="2.58" fill="#4F8BFF"/>
<rect x="208.00" y="342.01" width="16.00" height="1.99" fill="#4F8BFF"/>
<rect x="224.00" y="336.00" width="16.00" height="2.58" fill="#4F8BFF"/>
<rect x="224.00" y="342.01" width="16.00" height="1.99" fill="#4F8BFF"/>
<rect x="240.00" y="336.00" width="16.00" height="2.58" fill="#4F8BFF"/>
<rect x="240.00" y="342.01" width="16.00" height="1.99" fill="#4F8BFF"/>
<rect x="256.00" y="336.00" width="11.65" height="2.58" fill="#6B7DFF"/>
<rect x="256.00" y="342.01" width="3.41" height="1.99" fill="#6B7DFF"/>
<rect x="163.60" y="344.00" width="12.40" height="8.00" fill="#4092FF"/>
<rect x="256.00" y="344.00" width="3.41" height="8.00" fill="#7279FF"/>
<rect x="163.60" y="352.00" width="12.40" height="3.61" fill="#5D83FF"/>
<rect x="163.60" y="359.04" width="12.40" height="0.96" fill="#5D83FF"/>
<rect x="176.00" y="352.00" width="16.00" height="3.61" fill="#508AFF"/>
<rect x="176.00" y="359.04" width="16.00" height="0.96" fill="#508AFF"/>
<rect x="192.00" y="352.00" width="16.00" height="3.61" fill="#508AFF"/>
<rect x="192.00" y="359.04" width="16.00" height="0.96" fill="#508AFF"/>
<rect x="208.00" y="352.00" width="16.00" height="3.61" fill="#508AFF"/>
<rect x="208.00" y="359.04" width="16.00" height="0.96" fill="#508AFF"/>
<rect x="224.00" y="352.00" width="16.00" height="3.61" fill="#508AFF"/>
<rect x="224.00" y="359.04" width="16.00" height="0.96" fill="#508AFF"/>
<rect x="240.00" y="352.00" width="16.00" height="3.61" fill="#508AFF"/>
<rect x="240.00" y="359.04" width="15.88" height="0.96" fill="#508AFF"/>
<rect x="256.00" y="352.00" width="3.41" height="3.61" fill="#7D73FF"/>
<rect x="163.60" y="360.00" width="12.40" height="8.00" fill="#4092FF"/>
<rect x="240.00" y="360.00" width="15.88" height="8.00" fill="#3399FF"/>
<rect x="163.60" y="368.00" width="12.40" height="4.64" fill="#5D84FF"/>
<rect x="176.00" y="368.00" width="16.00" height="4.64" fill="#4F8BFF"/>
<rect x="192.00" y="368.00" width="16.00" height="4.64" fill="#4F8BFF"/>
<rect x="208.00" y="368.00" width="16.00" height="4.64" fill="#4F8BFF"/>
<rect x="224.00" y="368.00" width="16.00" height="4.64" fill="#4F8BFF"/>
<rect x="240.00" y="368.00" width="15.88" height="4.64" fill="#4F8BFF"/>
<rect x="163.60" y="376.07" width="12.40" height="7.93" fill="#4192FF"/>
<rect x="176.00" y="376.07" width="16.00" height="7.93" fill="#3399FF"/>
<rect x="192.00" y="376.07" width="16.00" height="7.93" fill="#3399FF"/>
<rect x="208.00" y="376.07" width="16.00" height="7.93" fill="#3399FF"/>
<rect x="224.00" y="376.07" width="16.00" height="7.93" fill="#3399FF"/>
<rect x="240.00" y="376.07" width="15.48" height="7.93" fill="#3399FF"/>
<rect x="163.60" y="384.00" width="12.40" height="5.67" fill="#5488FF"/>
<rect x="176.00" y="384.00" width="16.00" height="5.67" fill="#4291FF"/>
<rect x="192.00" y="384.00" width="16.00" height="5.67" fill="#4291FF"/>
<rect x="208.00" y="384.00" width="16.00" height="5.67" fill="#4291FF"/>
<rect x="224.00" y="384.00" width="16.00" height="5.67" fill="#4291FF"/>
<rect x="240.00" y="384.00" width="15.48" height="5.67" fill="#4490FF"/>
<rect x="163.60" y="393.10" width="12.40" height="6.90" fill="#498EFF"/>
<rect x="176.00" y="393.10" width="16.00" height="6.90" fill="#3499FF"/>
<rect x="192.00" y="393.10" width="16.00" height="6.90" fill="#3499FF"/>
<rect x="208.00" y="393.10" width="16.00" height="6.90" fill="#3499FF"/>
<rect x="224.00" y="393.10" width="16.00" height="6.90" fill="#3499FF"/>
<rect x="240.00" y="393.10" width="0.96" height="6.90" fill="#8171FF"/>
<rect x="163.60" y="400.00" width="12.40" height="6.70" fill="#4B8DFF"/>
<rect x="176.00" y="400.00" width="16.00" height="6.70" fill="#3697FF"/>
<rect x="192.00" y="400.00" width="16.00" height="6.70" fill="#3697FF"/>
<rect x="208.00" y="400.00" width="16.00" height="6.70" fill="#3697FF"/>
<rect x="224.00" y="400.00" width="16.00" height="6.70" fill="#3697FF"/>
<rect x="240.00" y="400.00" width="0.96" height="6.70" fill="#8171FF"/>
<rect x="163.60" y="420.73" width="12.40" height="3.27" fill="#C07FE6"/>
<rect x="176.00" y="420.73" width="16.00" height="3.27" fill="#CC79E6"/>
<rect x="192.00" y="420.73" width="16.00" height="3.27" fill="#CC79E6"/>
<rect x="208.00" y="420.73" width="16.00" height="3.27" fill="#CC79E6"/>
<rect x="224.00" y="420.73" width="16.00" height="3.27" fill="#CC79E6"/>
<rect x="240.00" y="420.73" width="16.00" height="3.27" fill="#CC79E6"/>
<rect x="256.00" y="420.73" width="6.16" height="3.27" fill="#B087E6"/>
<rect x="163.60" y="424.00" width="12.40" height="8.00" fill="#F067E6"/>
<rect x="256.00" y="424.00" width="6.16" height="8.00" fill="#C97AE6"/>
<rect x="163.60" y="432.00" width="12.40" height="2.33" fill="#CE78E6"/>
<rect x="163.60" y="437.76" width="12.40" height="2.24" fill="#CE78E6"/>
<rect x="176.00" y="432.00" width="16.00" height="2.33" fill="#DE70E6"/>
<rect x="176.00" y="437.76" width="16.00" height="2.24" fill="#DE70E6"/>
<rect x="192.00" y="432.00" width="16.00" height="2.33" fill="#DE70E6"/>
<rect x="192.00" y="437.76" width="16.00" height="2.24" fill="#DE70E6"/>
<rect x="208.00" y="432.00" width="16.00" height="2.33" fill="#DE70E6"/>
<rect x="208.00" y="437.76" width="16.00" height="2.24" fill="#DE70E6"/>
<rect x="224.00" y="432.00" width="16.00" height="2.33" fill="#DE70E6"/>
<rect x="224.00" y="437.76" width="16.00" height="2.24" fill="#DE70E6"/>
<rect x="240.00" y="432.00" width="16.00" height="2.33" fill="#DE70E6"/>
<rect x="240.00" y="437.76" width="16.00" height="2.24" fill="#DE70E6"/>
<rect x="256.00" y="432.00" width="6.16" height="2.33" fill="#B585E6"/>
<rect x="256.00" y="437.76" width="5.37" height="2.24" fill="#B585E6"/>
<rect x="163.60" y="440.00" width="12.40" height="8.00" fill="#F067E6"/>
<rect x="256.00" y="440.00" width="5.37" height="8.00" fill="#C47DE6"/>
<rect x="163.60" y="448.00" width="12.40" height="3.36" fill="#CE78E6"/>
<rect x="163.60" y="454.79" width="12.40" height="1.21" fill="#CE78E6"/>
<rect x="176.00" y="448.00" width="16.00" height="3.36" fill="#DE70E6"/>
<rect x="176.00" y="454.79" width="16.00" height="1.21" fill="#DE70E6"/>
<rect x="192.00" y="448.00" width="16.00" height="3.36" fill="#DE70E6"/>
<rect x="192.00" y="454.79" width="16.00" height="1.21" fill="#DE70E6"/>
<rect x="208.00" y="448.00" width="16.00" height="3.36" fill="#DE70E6"/>
<rect x="208.00" y="454.79" width="16.00" height="1.21" fill="#DE70E6"/>
<rect x="224.00" y="448.00" width="16.00" height="3.36" fill="#DE70E6"/>
<rect x="224.00" y="454.79" width="16.00" height="1.21" fill="#DE70E6"/>
<rect x="240.00" y="448.00" width="16.00" height="3.36" fill="#D873E6"/>
<rect x="240.00" y="454.79" width="10.77" height="1.21" fill="#D873E6"/>
<rect x="256.00" y="448.00" width="5.37" height="3.36" fill="#AE88E6"/>
<rect x="163.60" y="456.00" width="12.40" height="8.00" fill="#F067E6"/>
<rect x="240.00" y="456.00" width="10.77" height="8.00" fill="#E96AE6"/>
<rect x="163.60" y="464.00" width="12.40" height="4.39" fill="#CC79E6"/>
<rect x="176.00" y="464.00" width="16.00" height="4.39" fill="#DB71E6"/>
<rect x="192.00" y="464.00" width="16.00" height="4.39" fill="#DB71E6"/>
<rect x="208.00" y="464.00" width="16.00" height="4.39" fill="#DB71E6"/>
<rect x="224.00" y="464.00" width="16.00" height="4.39" fill="#DB71E6"/>
<rect x="240.00" y="464.00" width="10.77" height="4.39" fill="#C77BE6"/>
<g mask="url(#mT)">
<text x="371.43" y="38.13" class="v">0.523</text>
<text x="155.9" y="38.63" class="y">MAIA Body Listening</text>
<line x1="160.1" y1="33.93" x2="163.60" y2="33.93" stroke="#2A2A2A" stroke-width="1.25"/>
<line x1="163.60" y1="33.93" x2="166.3" y2="33.93" stroke="#000" stroke-opacity="0.55" stroke-width="1.25"/>
<text x="320.39" y="55.16" class="v">0.393<tspan class="st" dx="0.6" dy="-2.4">*</tspan></text>
<text x="155.9" y="55.66" class="y">MAIA Trusting</text>
<line x1="160.1" y1="50.96" x2="163.60" y2="50.96" stroke="#2A2A2A" stroke-width="1.25"/>
<line x1="163.60" y1="50.96" x2="166.3" y2="50.96" stroke="#000" stroke-opacity="0.55" stroke-width="1.25"/>
<text x="308.22" y="72.19" class="v">0.362</text>
<text x="155.9" y="72.69" class="y">MAIA Self−regulation</text>
<line x1="160.1" y1="67.99" x2="163.60" y2="67.99" stroke="#2A2A2A" stroke-width="1.25"/>
<line x1="163.60" y1="67.99" x2="166.3" y2="67.99" stroke="#000" stroke-opacity="0.55" stroke-width="1.25"/>
<text x="301.55" y="89.22" class="v">0.345</text>
<text x="155.9" y="89.72" class="y">MAIA Attention regulation</text>
<line x1="160.1" y1="85.02" x2="163.60" y2="85.02" stroke="#2A2A2A" stroke-width="1.25"/>
<line x1="163.60" y1="85.02" x2="166.3" y2="85.02" stroke="#000" stroke-opacity="0.55" stroke-width="1.25"/>
<text x="278.78" y="106.25" class="v">0.287<tspan class="st" dx="0.6" dy="-2.4">*</tspan></text>
<text x="155.9" y="106.75" class="y">MAIA Emotional Awareness</text>
<line x1="160.1" y1="102.05" x2="163.60" y2="102.05" stroke="#2A2A2A" stroke-width="1.25"/>
<line x1="163.60" y1="102.05" x2="166.3" y2="102.05" stroke="#000" stroke-opacity="0.55" stroke-width="1.25"/>
<text x="261.11" y="123.28" class="v">0.242<tspan class="st" dx="0.6" dy="-2.4">*</tspan></text>
<text x="155.9" y="123.78" class="y">MAIA Not worrying</text>
<line x1="160.1" y1="119.08" x2="163.60" y2="119.08" stroke="#2A2A2A" stroke-width="1.25"/>
<line x1="163.60" y1="119.08" x2="166.3" y2="119.08" stroke="#000" stroke-opacity="0.55" stroke-width="1.25"/>
<text x="365.93" y="150.91" class="v">0.509<tspan class="st" dx="0.6" dy="-2.4">*</tspan></text>
<text x="155.9" y="151.41" class="y">DASS Stress</text>
<line x1="160.1" y1="146.71" x2="163.60" y2="146.71" stroke="#2A2A2A" stroke-width="1.25"/>
<line x1="163.60" y1="146.71" x2="166.3" y2="146.71" stroke="#000" stroke-opacity="0.55" stroke-width="1.25"/>
<text x="355.33" y="167.94" class="v">0.482<tspan class="st" dx="0.6" dy="-2.4">*</tspan></text>
<text x="155.9" y="168.44" class="y">DASS Total</text>
<line x1="160.1" y1="163.74" x2="163.60" y2="163.74" stroke="#2A2A2A" stroke-width="1.25"/>
<line x1="163.60" y1="163.74" x2="166.3" y2="163.74" stroke="#000" stroke-opacity="0.55" stroke-width="1.25"/>
<text x="293.30" y="184.97" class="v">0.324</text>
<text x="155.9" y="185.47" class="y">PSS Total</text>
<line x1="160.1" y1="180.77" x2="163.60" y2="180.77" stroke="#2A2A2A" stroke-width="1.25"/>
<line x1="163.60" y1="180.77" x2="166.3" y2="180.77" stroke="#000" stroke-opacity="0.55" stroke-width="1.25"/>
<text x="328.24" y="212.60" class="v">0.413<tspan class="st" dx="0.6" dy="-2.4">*</tspan></text>
<text x="155.9" y="213.10" class="y">STAI−2 Trait Anxiety</text>
<line x1="160.1" y1="208.40" x2="163.60" y2="208.40" stroke="#2A2A2A" stroke-width="1.25"/>
<line x1="163.60" y1="208.40" x2="166.3" y2="208.40" stroke="#000" stroke-opacity="0.55" stroke-width="1.25"/>
<text x="287.02" y="229.63" class="v">0.308<tspan class="st" dx="0.6" dy="-2.4">*</tspan></text>
<text x="155.9" y="230.13" class="y">DASS Anxiety</text>
<line x1="160.1" y1="225.43" x2="163.60" y2="225.43" stroke="#2A2A2A" stroke-width="1.25"/>
<line x1="163.60" y1="225.43" x2="166.3" y2="225.43" stroke="#000" stroke-opacity="0.55" stroke-width="1.25"/>
<text x="223.42" y="246.66" class="v">0.146</text>
<text x="155.9" y="247.16" class="y">STAI−1 State Anxiety</text>
<line x1="160.1" y1="242.46" x2="163.60" y2="242.46" stroke="#2A2A2A" stroke-width="1.25"/>
<line x1="163.60" y1="242.46" x2="166.3" y2="242.46" stroke="#000" stroke-opacity="0.55" stroke-width="1.25"/>
<text x="324.71" y="274.29" class="v">0.404<tspan class="st" dx="0.6" dy="-2.4">*</tspan></text>
<text x="155.9" y="274.79" class="y">DASS Depression</text>
<line x1="160.1" y1="270.09" x2="163.60" y2="270.09" stroke="#2A2A2A" stroke-width="1.25"/>
<line x1="163.60" y1="270.09" x2="166.3" y2="270.09" stroke="#000" stroke-opacity="0.55" stroke-width="1.25"/>
<text x="251.69" y="291.32" class="v">0.218</text>
<text x="155.9" y="291.82" class="y">BDI Total</text>
<line x1="160.1" y1="287.12" x2="163.60" y2="287.12" stroke="#2A2A2A" stroke-width="1.25"/>
<line x1="163.60" y1="287.12" x2="166.3" y2="287.12" stroke="#000" stroke-opacity="0.55" stroke-width="1.25"/>
<text x="283.09" y="318.95" class="v">0.298<tspan class="st" dx="0.6" dy="-2.4">*</tspan></text>
<text x="155.9" y="319.45" class="y">DERS Total</text>
<line x1="160.1" y1="314.75" x2="163.60" y2="314.75" stroke="#2A2A2A" stroke-width="1.25"/>
<line x1="163.60" y1="314.75" x2="166.3" y2="314.75" stroke="#000" stroke-opacity="0.55" stroke-width="1.25"/>
<text x="269.35" y="335.98" class="v">0.263<tspan class="st" dx="0.6" dy="-2.4">*</tspan></text>
<text x="155.9" y="336.48" class="y">DERS Goal−directed behavior</text>
<line x1="160.1" y1="331.78" x2="163.60" y2="331.78" stroke="#2A2A2A" stroke-width="1.25"/>
<line x1="163.60" y1="331.78" x2="166.3" y2="331.78" stroke="#000" stroke-opacity="0.55" stroke-width="1.25"/>
<text x="261.11" y="353.01" class="v">0.242<tspan class="st" dx="0.6" dy="-2.4">*</tspan></text>
<text x="155.9" y="353.51" class="y">DERS Recognizing emotions</text>
<line x1="160.1" y1="348.81" x2="163.60" y2="348.81" stroke="#2A2A2A" stroke-width="1.25"/>
<line x1="163.60" y1="348.81" x2="166.3" y2="348.81" stroke="#000" stroke-opacity="0.55" stroke-width="1.25"/>
<text x="257.58" y="370.04" class="v">0.233<tspan class="st" dx="0.6" dy="-2.4">*</tspan></text>
<text x="155.9" y="370.54" class="y">DERS Lack of confidence</text>
<line x1="160.1" y1="365.84" x2="163.60" y2="365.84" stroke="#2A2A2A" stroke-width="1.25"/>
<line x1="163.60" y1="365.84" x2="166.3" y2="365.84" stroke="#000" stroke-opacity="0.55" stroke-width="1.25"/>
<text x="257.18" y="387.07" class="v">0.232<tspan class="st" dx="0.6" dy="-2.4">*</tspan></text>
<text x="155.9" y="387.57" class="y">TAS Describing Feelings</text>
<line x1="160.1" y1="382.87" x2="163.60" y2="382.87" stroke="#2A2A2A" stroke-width="1.25"/>
<line x1="163.60" y1="382.87" x2="166.3" y2="382.87" stroke="#000" stroke-opacity="0.55" stroke-width="1.25"/>
<text x="242.66" y="404.10" class="v">0.195</text>
<text x="155.9" y="404.60" class="y">DERS Lack of acceptance</text>
<line x1="160.1" y1="399.90" x2="163.60" y2="399.90" stroke="#2A2A2A" stroke-width="1.25"/>
<line x1="163.60" y1="399.90" x2="166.3" y2="399.90" stroke="#000" stroke-opacity="0.55" stroke-width="1.25"/>
<text x="263.86" y="431.73" class="v">0.249</text>
<text x="155.9" y="432.23" class="y">FFMQ Nonjudging</text>
<line x1="160.1" y1="427.53" x2="163.60" y2="427.53" stroke="#2A2A2A" stroke-width="1.25"/>
<line x1="163.60" y1="427.53" x2="166.3" y2="427.53" stroke="#000" stroke-opacity="0.55" stroke-width="1.25"/>
<text x="263.07" y="448.76" class="v">0.247<tspan class="st" dx="0.6" dy="-2.4">*</tspan></text>
<text x="155.9" y="449.26" class="y">FFMQ Nonreacting</text>
<line x1="160.1" y1="444.56" x2="163.60" y2="444.56" stroke="#2A2A2A" stroke-width="1.25"/>
<line x1="163.60" y1="444.56" x2="166.3" y2="444.56" stroke="#000" stroke-opacity="0.55" stroke-width="1.25"/>
<text x="252.47" y="465.79" class="v">0.220</text>
<text x="155.9" y="466.29" class="y">FFMQ Total</text>
<line x1="160.1" y1="461.59" x2="163.60" y2="461.59" stroke="#2A2A2A" stroke-width="1.25"/>
<line x1="163.60" y1="461.59" x2="166.3" y2="461.59" stroke="#000" stroke-opacity="0.55" stroke-width="1.25"/>
<line x1="163.5" y1="17.3" x2="163.5" y2="474" stroke="#000" stroke-width="1.2"/>
<line x1="162.9" y1="473.6" x2="383.8" y2="473.6" stroke="#000" stroke-width="1.25"/>
</g>
<text x="163.60" y="488" class="xt" text-anchor="middle">0.0</text>
<text x="199.00" y="488" class="xt" text-anchor="middle">0.1</text>
<text x="234.40" y="488" class="xt" text-anchor="middle">0.2</text>
<text x="269.80" y="488" class="xt" text-anchor="middle">0.3</text>
<text x="305.20" y="488" class="xt" text-anchor="middle">0.4</text>
<text x="340.60" y="488" class="xt" text-anchor="middle">0.5</text>
<text x="376.00" y="488" class="xt" text-anchor="middle">0.6</text>
<text x="111" y="15.45" class="t" textLength="322.3" lengthAdjust="spacingAndGlyphs">Pre−post Effect Sizes (including STAI−1 and STAI−2)</text>
<text x="119.5" y="504.9" class="xa" textLength="306.2" lengthAdjust="spacingAndGlyphs">Effect size (Cohen’s d or rank−biserial correlation)</text>
<text x="449.9" y="124.6" class="lt">Domain</text>
<text x="449.8" y="147.20" class="lg">Interoception</text>
<text x="449.8" y="169.10" class="lg">Stress</text>
<text x="449.8" y="191.00" class="lg">Anxiety</text>
<text x="449.8" y="212.90" class="lg">Depression</text>
<text x="449.8" y="234.80" class="lg">Emotion Regulation</text>
<text x="449.8" y="256.70" class="lg">Mindfulness</text>
<g clip-path="url(#k0)"><line x1="163.5" y1="17.3" x2="163.5" y2="474" stroke="#000500" stroke-width="1.2"/></g>
<g clip-path="url(#k1)"><line x1="160.1" y1="270.09" x2="163.60" y2="270.09" stroke="#00642A" stroke-width="1.25"/><line x1="163.60" y1="270.09" x2="166.3" y2="270.09" stroke="#000" stroke-opacity="0.55" stroke-width="1.25"/><line x1="163.5" y1="17.3" x2="163.5" y2="474" stroke="#003A00" stroke-width="1.2"/></g>
<g clip-path="url(#k2)"><text x="324.71" y="274.29" class="v" style="fill:#000F00;stroke:#000F00">0.404<tspan class="st" dx="0.6" dy="-2.4">*</tspan></text></g>
<g clip-path="url(#k3)"><line x1="160.1" y1="270.09" x2="163.60" y2="270.09" stroke="#004E2A" stroke-width="1.25"/><line x1="163.60" y1="270.09" x2="166.3" y2="270.09" stroke="#000" stroke-opacity="0.55" stroke-width="1.25"/><line x1="163.5" y1="17.3" x2="163.5" y2="474" stroke="#002400" stroke-width="1.2"/></g>
<g clip-path="url(#k4)"><text x="324.71" y="274.29" class="v" style="fill:#000900;stroke:#000900">0.404<tspan class="st" dx="0.6" dy="-2.4">*</tspan></text></g>
<g clip-path="url(#k5)"><line x1="160.1" y1="287.12" x2="163.60" y2="287.12" stroke="#00612A" stroke-width="1.25"/><line x1="163.60" y1="287.12" x2="166.3" y2="287.12" stroke="#000" stroke-opacity="0.55" stroke-width="1.25"/><line x1="163.5" y1="17.3" x2="163.5" y2="474" stroke="#003700" stroke-width="1.2"/></g>
<g clip-path="url(#k6)"><text x="251.69" y="291.32" class="v" style="fill:#002F00;stroke:#002F00">0.218</text></g>
<g clip-path="url(#k7)"><line x1="160.1" y1="287.12" x2="163.60" y2="287.12" stroke="#00552A" stroke-width="1.25"/><line x1="163.60" y1="287.12" x2="166.3" y2="287.12" stroke="#000" stroke-opacity="0.55" stroke-width="1.25"/><line x1="163.5" y1="17.3" x2="163.5" y2="474" stroke="#002B00" stroke-width="1.2"/></g>
<g clip-path="url(#k8)"><text x="251.69" y="291.32" class="v" style="fill:#002400;stroke:#002400">0.218</text></g>
<g clip-path="url(#k9)"><line x1="163.5" y1="17.3" x2="163.5" y2="474" stroke="#001200" stroke-width="1.2"/></g>
<g clip-path="url(#k10)"><text x="283.09" y="318.95" class="v" style="fill:#000E00;stroke:#000E00">0.298<tspan class="st" dx="0.6" dy="-2.4">*</tspan></text></g>
<g clip-path="url(#k11)"><line x1="160.1" y1="314.75" x2="163.60" y2="314.75" stroke="#004E2A" stroke-width="1.25"/><line x1="163.60" y1="314.75" x2="166.3" y2="314.75" stroke="#000" stroke-opacity="0.55" stroke-width="1.25"/><line x1="163.5" y1="17.3" x2="163.5" y2="474" stroke="#002400" stroke-width="1.2"/></g>
<g clip-path="url(#k12)"><text x="283.09" y="318.95" class="v" style="fill:#001D00;stroke:#001D00">0.298<tspan class="st" dx="0.6" dy="-2.4">*</tspan></text></g>
<g clip-path="url(#k13)"><line x1="163.5" y1="17.3" x2="163.5" y2="474" stroke="#001500" stroke-width="1.2"/></g>
<g clip-path="url(#k14)"><text x="269.35" y="335.98" class="v" style="fill:#001700;stroke:#001700">0.263<tspan class="st" dx="0.6" dy="-2.4">*</tspan></text></g>
<g clip-path="url(#k15)"><text x="283.09" y="318.95" class="v" style="fill:#000600;stroke:#000600">0.298<tspan class="st" dx="0.6" dy="-2.4">*</tspan></text><text x="269.35" y="335.98" class="v" style="fill:#000600;stroke:#000600">0.263<tspan class="st" dx="0.6" dy="-2.4">*</tspan></text></g>
<g clip-path="url(#k16)"><line x1="160.1" y1="331.78" x2="163.60" y2="331.78" stroke="#004E2A" stroke-width="1.25"/><line x1="163.60" y1="331.78" x2="166.3" y2="331.78" stroke="#000" stroke-opacity="0.55" stroke-width="1.25"/><line x1="163.5" y1="17.3" x2="163.5" y2="474" stroke="#002400" stroke-width="1.2"/></g>
<g clip-path="url(#k17)"><text x="269.35" y="335.98" class="v" style="fill:#002300;stroke:#002300">0.263<tspan class="st" dx="0.6" dy="-2.4">*</tspan></text></g>
<g clip-path="url(#k18)"><line x1="163.5" y1="17.3" x2="163.5" y2="474" stroke="#001500" stroke-width="1.2"/></g>
<g clip-path="url(#k19)"><text x="269.35" y="335.98" class="v" style="fill:#000E00;stroke:#000E00">0.263<tspan class="st" dx="0.6" dy="-2.4">*</tspan></text><text x="261.11" y="353.01" class="v" style="fill:#000E00;stroke:#000E00">0.242<tspan class="st" dx="0.6" dy="-2.4">*</tspan></text></g>
<g clip-path="url(#k20)"><line x1="160.1" y1="348.81" x2="163.60" y2="348.81" stroke="#004E2A" stroke-width="1.25"/><line x1="163.60" y1="348.81" x2="166.3" y2="348.81" stroke="#000" stroke-opacity="0.55" stroke-width="1.25"/><line x1="163.5" y1="17.3" x2="163.5" y2="474" stroke="#002400" stroke-width="1.2"/></g>
<g clip-path="url(#k21)"><text x="261.11" y="353.01" class="v" style="fill:#000A00;stroke:#000A00">0.242<tspan class="st" dx="0.6" dy="-2.4">*</tspan></text></g>
<g clip-path="url(#k22)"><line x1="163.5" y1="17.3" x2="163.5" y2="474" stroke="#001500" stroke-width="1.2"/></g>
<g clip-path="url(#k23)"><text x="257.58" y="370.04" class="v" style="fill:#001C00;stroke:#001C00">0.233<tspan class="st" dx="0.6" dy="-2.4">*</tspan></text></g>
<g clip-path="url(#k24)"><text x="261.11" y="353.01" class="v" style="fill:#000500;stroke:#000500">0.242<tspan class="st" dx="0.6" dy="-2.4">*</tspan></text><text x="257.58" y="370.04" class="v" style="fill:#000500;stroke:#000500">0.233<tspan class="st" dx="0.6" dy="-2.4">*</tspan></text></g>
<g clip-path="url(#k25)"><line x1="160.1" y1="365.84" x2="163.60" y2="365.84" stroke="#004E2A" stroke-width="1.25"/><line x1="163.60" y1="365.84" x2="166.3" y2="365.84" stroke="#000" stroke-opacity="0.55" stroke-width="1.25"/><line x1="163.5" y1="17.3" x2="163.5" y2="474" stroke="#002400" stroke-width="1.2"/></g>
<g clip-path="url(#k26)"><text x="257.58" y="370.04" class="v" style="fill:#002A00;stroke:#002A00">0.233<tspan class="st" dx="0.6" dy="-2.4">*</tspan></text></g>
<g clip-path="url(#k27)"><line x1="163.5" y1="17.3" x2="163.5" y2="474" stroke="#001500" stroke-width="1.2"/></g>
<g clip-path="url(#k28)"><text x="257.58" y="370.04" class="v" style="fill:#001C00;stroke:#001C00">0.233<tspan class="st" dx="0.6" dy="-2.4">*</tspan></text><text x="257.18" y="387.07" class="v" style="fill:#001C00;stroke:#001C00">0.232<tspan class="st" dx="0.6" dy="-2.4">*</tspan></text></g>
<g clip-path="url(#k29)"><line x1="160.1" y1="382.87" x2="163.60" y2="382.87" stroke="#004D2A" stroke-width="1.25"/><line x1="163.60" y1="382.87" x2="166.3" y2="382.87" stroke="#000" stroke-opacity="0.55" stroke-width="1.25"/><line x1="163.5" y1="17.3" x2="163.5" y2="474" stroke="#002300" stroke-width="1.2"/></g>
<g clip-path="url(#k30)"><text x="257.18" y="387.07" class="v" style="fill:#002A00;stroke:#002A00">0.232<tspan class="st" dx="0.6" dy="-2.4">*</tspan></text></g>
<g clip-path="url(#k31)"><line x1="160.1" y1="382.87" x2="163.60" y2="382.87" stroke="#00442A" stroke-width="1.25"/><line x1="163.60" y1="382.87" x2="166.3" y2="382.87" stroke="#000" stroke-opacity="0.55" stroke-width="1.25"/><line x1="163.5" y1="17.3" x2="163.5" y2="474" stroke="#001A00" stroke-width="1.2"/></g>
<g clip-path="url(#k32)"><text x="257.18" y="387.07" class="v" style="fill:#002100;stroke:#002100">0.232<tspan class="st" dx="0.6" dy="-2.4">*</tspan></text></g>
<g clip-path="url(#k33)"><line x1="160.1" y1="399.90" x2="163.60" y2="399.90" stroke="#00492A" stroke-width="1.25"/><line x1="163.60" y1="399.90" x2="166.3" y2="399.90" stroke="#000" stroke-opacity="0.55" stroke-width="1.25"/><line x1="163.5" y1="17.3" x2="163.5" y2="474" stroke="#001F00" stroke-width="1.2"/></g>
<g clip-path="url(#k34)"><line x1="160.1" y1="399.90" x2="163.60" y2="399.90" stroke="#00482A" stroke-width="1.25"/><line x1="163.60" y1="399.90" x2="166.3" y2="399.90" stroke="#000" stroke-opacity="0.55" stroke-width="1.25"/><line x1="163.5" y1="17.3" x2="163.5" y2="474" stroke="#001E00" stroke-width="1.2"/></g>
<g clip-path="url(#k35)"><line x1="163.5" y1="17.3" x2="163.5" y2="474" stroke="#220000" stroke-width="1.2"/></g>
<g clip-path="url(#k36)"><text x="263.86" y="431.73" class="v" style="fill:#120000;stroke:#120000">0.249</text></g>
<g clip-path="url(#k37)"><line x1="160.1" y1="427.53" x2="163.60" y2="427.53" stroke="#7C002A" stroke-width="1.25"/><line x1="163.60" y1="427.53" x2="166.3" y2="427.53" stroke="#000" stroke-opacity="0.55" stroke-width="1.25"/><line x1="163.5" y1="17.3" x2="163.5" y2="474" stroke="#520000" stroke-width="1.2"/></g>
<g clip-path="url(#k38)"><text x="263.86" y="431.73" class="v" style="fill:#2B0000;stroke:#2B0000">0.249</text></g>
<g clip-path="url(#k39)"><line x1="163.5" y1="17.3" x2="163.5" y2="474" stroke="#2F0000" stroke-width="1.2"/></g>
<g clip-path="url(#k40)"><text x="263.86" y="431.73" class="v" style="fill:#170000;stroke:#170000">0.249</text><text x="263.07" y="448.76" class="v" style="fill:#170000;stroke:#170000">0.247<tspan class="st" dx="0.6" dy="-2.4">*</tspan></text></g>
<g clip-path="url(#k41)"><line x1="160.1" y1="444.56" x2="163.60" y2="444.56" stroke="#7C002A" stroke-width="1.25"/><line x1="163.60" y1="444.56" x2="166.3" y2="444.56" stroke="#000" stroke-opacity="0.55" stroke-width="1.25"/><line x1="163.5" y1="17.3" x2="163.5" y2="474" stroke="#520000" stroke-width="1.2"/></g>
<g clip-path="url(#k42)"><text x="263.07" y="448.76" class="v" style="fill:#250000;stroke:#250000">0.247<tspan class="st" dx="0.6" dy="-2.4">*</tspan></text></g>
<g clip-path="url(#k43)"><line x1="163.5" y1="17.3" x2="163.5" y2="474" stroke="#2F0000" stroke-width="1.2"/></g>
<g clip-path="url(#k44)"><text x="252.47" y="465.79" class="v" style="fill:#3A0000;stroke:#3A0000">0.220</text></g>
<g clip-path="url(#k45)"><text x="263.07" y="448.76" class="v" style="fill:#100000;stroke:#100000">0.247<tspan class="st" dx="0.6" dy="-2.4">*</tspan></text><text x="252.47" y="465.79" class="v" style="fill:#100000;stroke:#100000">0.220</text></g>
<g clip-path="url(#k46)"><line x1="160.1" y1="461.59" x2="163.60" y2="461.59" stroke="#7C002A" stroke-width="1.25"/><line x1="163.60" y1="461.59" x2="166.3" y2="461.59" stroke="#000" stroke-opacity="0.55" stroke-width="1.25"/><line x1="163.5" y1="17.3" x2="163.5" y2="474" stroke="#520000" stroke-width="1.2"/></g>
<g clip-path="url(#k47)"><text x="252.47" y="465.79" class="v" style="fill:#4B0000;stroke:#4B0000">0.220</text></g>
<g clip-path="url(#k48)"><line x1="163.5" y1="17.3" x2="163.5" y2="474" stroke="#2D0000" stroke-width="1.2"/><line x1="162.9" y1="473.6" x2="383.8" y2="473.6" stroke="#2D0000" stroke-width="1.25"/></g>
<g clip-path="url(#k49)"><line x1="162.9" y1="473.6" x2="383.8" y2="473.6" stroke="#3D0000" stroke-width="1.25"/></g>
<g clip-path="url(#k50)"><line x1="162.9" y1="473.6" x2="383.8" y2="473.6" stroke="#3D0000" stroke-width="1.25"/></g>
<g clip-path="url(#k51)"><line x1="162.9" y1="473.6" x2="383.8" y2="473.6" stroke="#3D0000" stroke-width="1.25"/></g>
<g clip-path="url(#k52)"><line x1="162.9" y1="473.6" x2="383.8" y2="473.6" stroke="#3D0000" stroke-width="1.25"/></g>
<g clip-path="url(#k53)"><text x="252.47" y="465.79" class="v" style="fill:#290000;stroke:#290000">0.220</text><line x1="162.9" y1="473.6" x2="383.8" y2="473.6" stroke="#290000" stroke-width="1.25"/></g>
</svg>
</body></html>
